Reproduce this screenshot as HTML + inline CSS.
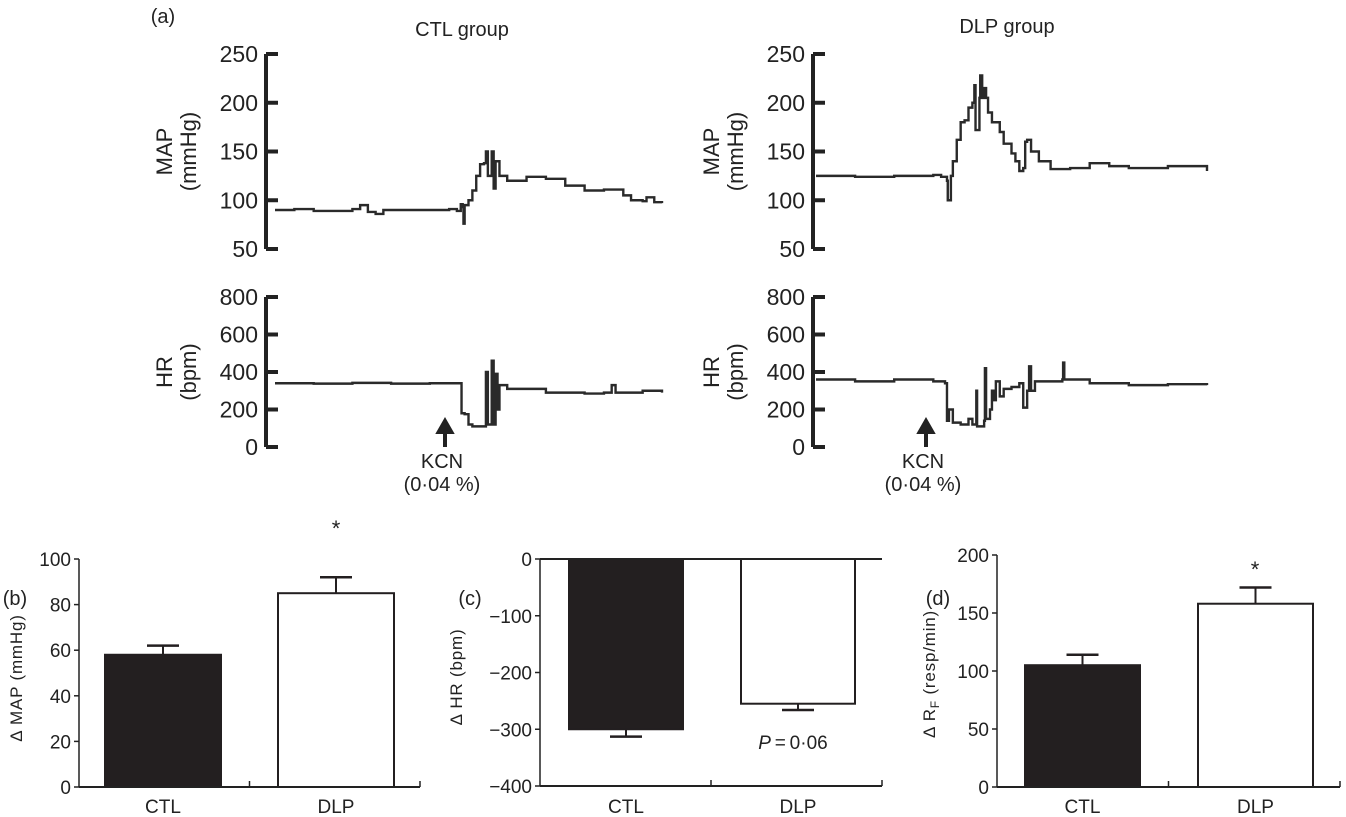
<!DOCTYPE html>
<html><head><meta charset="utf-8"><style>
body{margin:0;background:#fff}
svg{display:block;font-family:"Liberation Sans",sans-serif;fill:#222}
</style></head><body>
<svg id="fig" width="1346" height="817" viewBox="0 0 1346 817" xmlns="http://www.w3.org/2000/svg"></svg>
<script>
// ---- trace data (t fraction of recording, value) ----
const ctlMapT=[0,.05,.1,.2,.22,.24,.26,.28,.4,.45,.47,.48,.485,.487,.49,.5,.51,.52,.53,.54,.545,.55,.56,.565,.57,.58,.6,.65,.7,.75,.8,.85,.9,.92,.95,.96,.98,1];
const ctlMapV=[90,91,89,91,95,88,86,90,90,91,89,96,93,76,95,100,110,125,137,138,150,125,150,112,140,125,120,124,122,115,110,111,105,100,99,103,98,97];
const ctlHrT=[0,.1,.2,.3,.4,.48,.482,.49,.5,.51,.54,.545,.55,.56,.565,.57,.575,.58,.6,.7,.8,.85,.87,.88,.95,1];
const ctlHrV=[340,338,342,338,340,340,180,175,120,110,110,400,120,460,120,390,200,330,310,290,285,290,330,290,300,290];
const dlpMapT=[0,.1,.2,.3,.32,.335,.337,.342,.345,.35,.36,.37,.38,.39,.4,.405,.408,.415,.418,.42,.425,.43,.435,.44,.45,.47,.48,.5,.51,.52,.53,.535,.54,.55,.57,.6,.65,.7,.75,.8,.9,1];
const dlpMapV=[125,124,125,126,124,120,100,100,125,140,162,180,182,195,200,218,172,172,205,228,205,215,205,190,180,170,158,148,140,130,133,160,162,150,140,132,133,138,135,133,135,130];
const dlpHrT=[0,.1,.2,.3,.33,.335,.34,.35,.37,.39,.4,.41,.412,.42,.43,.432,.435,.44,.445,.45,.455,.46,.47,.48,.5,.52,.53,.54,.545,.55,.56,.6,.63,.632,.635,.7,.8,.9,1];
const dlpHrV=[360,350,360,350,340,140,200,130,120,150,120,300,110,110,140,420,150,150,200,300,250,350,270,310,320,340,210,300,430,300,350,350,360,450,360,340,330,335,330];
// ---- bar data ----
const barCats=["CTL","DLP"];
const mapBars=[58,85], mapErr=[62,92];
const hrBars=[-300,-255], hrErr=[-313,-266];
const rfBars=[105,158], rfErr=[114,172];
const mapTicks=[50,100,150,200,250], hrTicks=[0,200,400,600,800];
const bTicks=[0,20,40,60,80,100], cTicks=[0,-100,-200,-300,-400], dTicks=[0,50,100,150,200];

const svg=document.getElementById('fig');
const NS="http://www.w3.org/2000/svg";
function el(tag,attrs,parent){const e=document.createElementNS(NS,tag);for(const k in attrs)e.setAttribute(k,attrs[k]);(parent||svg).appendChild(e);return e;}
function txt(s,x,y,size,anchor,parent,extra){const t=el('text',Object.assign({x:x,y:y,'font-size':size,'text-anchor':anchor||'middle'},extra||{}),parent);t.textContent=s;return t;}
function lin(d0,d1,r0,r1){return v=>r0+(v-d0)/(d1-d0)*(r1-r0);}

function tracePanel(name,ax,x0,x1,yTop,yBot,dMin,dMax,ticks,T,V,t1,t2){
  const g=el('g',{});
  
  
  const y=lin(dMin,dMax,yBot,yTop), x=lin(0,1,x0,x1);
  el('line',{x1:ax,y1:yTop,x2:ax,y2:yBot,stroke:'#222','stroke-width':4},g);
  ticks.forEach(v=>{el('line',{x1:ax,y1:y(v),x2:ax+12,y2:y(v),stroke:'#222','stroke-width':4},g);
    const t=txt(String(v),ax-8,y(v)+8,23,'end',g);});
  let d='M'+x(T[0])+','+y(V[0]);
  for(let i=1;i<T.length;i++){d+=' L'+x(T[i])+','+y(V[i-1])+' L'+x(T[i])+','+y(V[i]);}
  const p=el('path',{d:d,fill:'none',stroke:'#2a2a2a','stroke-width':2.4},g);
  
  const cy=(yTop+yBot)/2;
  txt(t1,ax-102,cy,22,'middle',g,{transform:`rotate(-90 ${ax-102} ${cy})`,dy:8});
  txt(t2,ax-78,cy,22,'middle',g,{transform:`rotate(-90 ${ax-78} ${cy})`,dy:8});
}
txt('(a)',163,23,20,'middle');
txt('CTL group',462,36,20);
txt('DLP group',1007,33,20);
tracePanel('ctl-map-trace',266,275,662,54,249,50,250,mapTicks,ctlMapT,ctlMapV,'MAP','(mmHg)');
tracePanel('ctl-hr-trace',266,275,662,297,447,0,800,hrTicks,ctlHrT,ctlHrV,'HR','(bpm)');
tracePanel('dlp-map-trace',813,816,1207,54,249,50,250,mapTicks,dlpMapT,dlpMapV,'MAP','(mmHg)');
tracePanel('dlp-hr-trace',813,816,1207,297,447,0,800,hrTicks,dlpHrT,dlpHrV,'HR','(bpm)');
function arrow(x,name){const g=el('g',{});
  el('line',{x1:x,y1:447,x2:x,y2:428,stroke:'#222','stroke-width':4},g);
  el('path',{d:`M${x-8},${433} L${x},${419} L${x+8},${433} Z`,fill:'#222',stroke:'#222','stroke-width':2},g);
  txt('KCN',x-3,468,20,'middle',g);txt('(0·04 %)',x-3,491,20,'middle',g);}
arrow(445,'kcn-arrow-ctl');arrow(926,'kcn-arrow-dlp');

function barPanel(name,lab,labX,ax,axR,yTop,yBot,dMin,dMax,ticks,vals,errs,bx,bw,title,titleX,titleY,zeroTop){
  const g=el('g',{});
  
  
  const y=lin(dMin,dMax,yBot,yTop);
  txt(lab,labX,605,20,'middle',g);
  el('line',{x1:ax,y1:yTop,x2:ax,y2:yBot,stroke:'#222','stroke-width':1.5},g);
  ticks.forEach(v=>{el('line',{x1:ax-5,y1:y(v),x2:ax,y2:y(v),stroke:'#222','stroke-width':1.5},g);
    const t=txt(String(v).replace('-','\u2212'),ax-8,y(v)+7,19,'end',g);});
  const base=y(Math.max(dMin,Math.min(0,dMax)));
  vals.forEach((v,i)=>{
    const top=Math.min(y(v),base),h=Math.abs(y(v)-base);
    const r=el('rect',{x:bx[i],y:top,width:bw,height:h,fill:i==0?'#231f20':'#fff',stroke:'#231f20','stroke-width':2},g);
    
    const cx=bx[i]+bw/2;
    el('line',{x1:cx,y1:y(v),x2:cx,y2:y(errs[i]),stroke:'#231f20','stroke-width':2},g);
    el('line',{x1:cx-16,y1:y(errs[i]),x2:cx+16,y2:y(errs[i]),stroke:'#231f20','stroke-width':2.5},g);
    txt(barCats[i],cx,813,19,'middle',g);
  });
  el('line',{x1:ax,y1:yBot,x2:axR,y2:yBot,stroke:'#222','stroke-width':2},g);
  if(zeroTop)el('line',{x1:ax,y1:yTop,x2:axR,y2:yTop,stroke:'#222','stroke-width':2},g);
  const mid=(ax+axR)/2;
  el('line',{x1:mid,y1:yBot,x2:mid,y2:yBot-6,stroke:'#222','stroke-width':1.5},g);
  el('line',{x1:axR,y1:yBot,x2:axR,y2:yBot-6,stroke:'#222','stroke-width':1.5},g);
  const t=txt(title,titleX,titleY,17,'middle',g,{transform:`rotate(-90 ${titleX} ${titleY})`,'letter-spacing':0.8});
  
  return {g:g,y:y};
}
const b=barPanel('panel-b-map-bars','(b)',15,79,420,559,787,0,100,bTicks,mapBars,mapErr,[105,278],116,'\u0394 MAP (mmHg)',22,678);
txt('*',336,536,22,'middle',b.g);
const c=barPanel('panel-c-hr-bars','(c)',470,540,882,559,786,-400,0,cTicks,hrBars,hrErr,[569,741],114,'\u0394 HR (bpm)',462,677,true);
const pt=txt('',793,749,19,'middle',c.g);pt.innerHTML='<tspan font-style="italic">P</tspan>\u2009=\u20090·06';
const d=barPanel('panel-d-rf-bars','(d)',938,997,1340,555,787,0,200,dTicks,rfBars,rfErr,[1025,1198],115,'\u0394 R',935,674);
const dt=d.g.lastChild;dt.innerHTML='\u0394 R<tspan font-size="12" dy="4">F</tspan><tspan dy="-4"> (resp/min)</tspan>';
txt('*',1255,577,22,'middle',d.g);
</script>
</body></html>
